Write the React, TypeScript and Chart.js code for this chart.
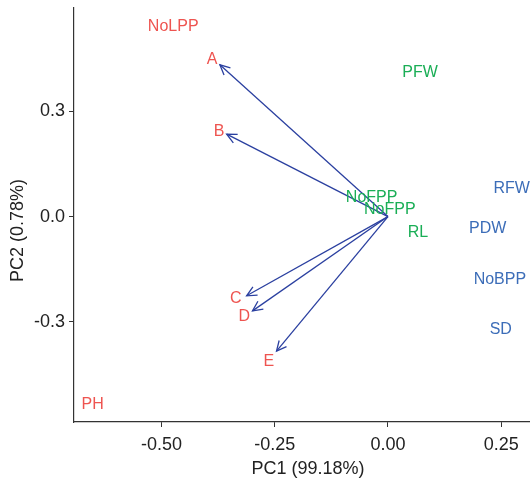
import React, { useEffect, useRef } from "react";
import { Chart, registerables } from "chart.js";

Chart.register(...registerables);

// Arrow (loading) tips, origin at (0,0)
const arrowNames = ["A", "B", "C", "D", "E"];
const arrowX = [-0.371, -0.356, -0.312, -0.299, -0.246];
const arrowY = [0.433, 0.235, -0.226, -0.269, -0.384];

// Text labels
const redNames = ["NoLPP", "A", "B", "C", "D", "E", "PH"];
const redX = [-0.474, -0.388, -0.373, -0.336, -0.317, -0.263, -0.652];
const redY = [0.543, 0.448, 0.243, -0.233, -0.286, -0.414, -0.536];

const greenNames = ["PFW", "NoFPP", "NoFPP", "RL"];
const greenX = [0.071, -0.036, 0.004, 0.066];
const greenY = [0.41, 0.054, 0.021, -0.045];

const blueNames = ["RFW", "PDW", "NoBPP", "SD"];
const blueX = [0.273, 0.22, 0.247, 0.249];
const blueY = [0.081, -0.033, -0.179, -0.322];

const xTicks = [-0.5, -0.25, 0, 0.25];
const yTicks = [-0.3, 0, 0.3];
const xTitle = "PC1 (99.18%)";
const yTitle = "PC2 (0.78%)";

const RED = "#EE5450";
const GREEN = "#1AAE56";
const BLUE = "#3C6DB8";
const ARROW = "#2B40A0";
const FONT_FAMILY = "'Liberation Sans', Arial, sans-serif";

const labelPlugin = {
  id: "textLabels",
  afterDatasetsDraw(chart: any) {
    const { ctx, scales } = chart;
    ctx.save();
    chart.data.datasets.forEach((ds: any) => {
      if (!ds.textLabels) return;
      ctx.font = "16px " + FONT_FAMILY;
      ctx.fillStyle = ds.textColor;
      ctx.textAlign = "center";
      ctx.textBaseline = "middle";
      ds.data.forEach((p: any, i: number) => {
        const px = scales.x.getPixelForValue(p.x);
        const py = scales.y.getPixelForValue(p.y);
        ctx.fillText(ds.textLabels[i], px, py);
      });
    });
    ctx.restore();
  },
};

const yTitlePlugin = {
  id: "yTitle",
  afterDraw(chart: any) {
    const { ctx } = chart;
    ctx.save();
    ctx.translate(18, 230.5);
    ctx.rotate(-Math.PI / 2);
    ctx.font = "18px " + FONT_FAMILY;
    ctx.fillStyle = "#222";
    ctx.textAlign = "center";
    ctx.textBaseline = "middle";
    ctx.fillText(yTitle, 0, 0);
    ctx.restore();
  },
};

const arrowHeadPlugin = {
  id: "arrowHeads",
  afterDatasetsDraw(chart: any) {
    const { ctx, scales } = chart;
    ctx.save();
    ctx.strokeStyle = ARROW;
    ctx.lineWidth = 1.3;
    chart.data.datasets.forEach((ds: any) => {
      if (!ds.isArrow) return;
      const [a, b] = ds.data;
      const x0 = scales.x.getPixelForValue(a.x);
      const y0 = scales.y.getPixelForValue(a.y);
      const x1 = scales.x.getPixelForValue(b.x);
      const y1 = scales.y.getPixelForValue(b.y);
      const ang = Math.atan2(y1 - y0, x1 - x0);
      const len = 11;
      const spread = Math.PI / 7;
      ctx.beginPath();
      ctx.moveTo(x1 - len * Math.cos(ang - spread), y1 - len * Math.sin(ang - spread));
      ctx.lineTo(x1, y1);
      ctx.lineTo(x1 - len * Math.cos(ang + spread), y1 - len * Math.sin(ang + spread));
      ctx.stroke();
    });
    ctx.restore();
  },
};

export default function App() {
  const ref = useRef<HTMLCanvasElement>(null);
  useEffect(() => {
    if (!ref.current) return;
    const arrowSets = arrowNames.map((n, i) => ({
      label: n,
      isArrow: true,
      data: [
        { x: 0, y: 0 },
        { x: arrowX[i], y: arrowY[i] },
      ],
      showLine: true,
      borderColor: ARROW,
      borderWidth: 1.3,
      pointRadius: 0,
      fill: false,
    }));
    const mk = (names: string[], xs: number[], ys: number[], color: string) => ({
      label: "t",
      textLabels: names,
      textColor: color,
      data: xs.map((x, i) => ({ x, y: ys[i] })),
      pointRadius: 0,
      showLine: false,
    });
    const font = { family: FONT_FAMILY, size: 18 };
    const chart = new Chart(ref.current, {
      type: "scatter",
      data: {
        datasets: [
          ...arrowSets,
          mk(redNames, redX, redY, RED),
          mk(greenNames, greenX, greenY, GREEN),
          mk(blueNames, blueX, blueY, BLUE),
        ] as any,
      },
      options: {
        animation: false,
        responsive: false,
        layout: { padding: { top: 8, right: 0, left: 0, bottom: 0 } },
        plugins: { legend: { display: false }, tooltip: { enabled: false } },
        scales: {
          x: {
            type: "linear",
            min: -0.693,
            max: 0.34,
            grid: {
              display: true,
              drawOnChartArea: false,
              drawTicks: true,
              tickLength: 5,
              color: "#333",
            },
            border: { display: true, color: "#333", width: 1.2 },
            afterBuildTicks: (s: any) => {
              s.ticks = xTicks.map((v) => ({ value: v }));
            },
            ticks: {
              color: "#222",
              font,
              padding: 7,
              maxRotation: 0,
              callback: (v: any) => Number(v).toFixed(2),
            },
            title: { display: true, text: xTitle, color: "#222", font, padding: { top: 2, bottom: 0 } },
            afterFit: (s: any) => {
              s.height = 58;
              s.paddingLeft = 0;
              s.paddingRight = 0;
            },
          },
          y: {
            type: "linear",
            min: -0.586,
            max: 0.595,
            grid: {
              display: true,
              drawOnChartArea: false,
              drawTicks: true,
              tickLength: 5,
              color: "#333",
            },
            border: { display: true, color: "#333", width: 1.2 },
            afterBuildTicks: (s: any) => {
              s.ticks = yTicks.map((v) => ({ value: v }));
            },
            ticks: {
              color: "#222",
              font,
              padding: 4,
              callback: (v: any) => Number(v).toFixed(1),
            },
            title: { display: false },
            afterFit: (s: any) => {
              s.width = 74;
              s.paddingTop = 0;
              s.paddingBottom = 0;
            },
          },
        },
      } as any,
      plugins: [arrowHeadPlugin, labelPlugin, yTitlePlugin],
    });
    return () => chart.destroy();
  }, []);
  return (
    <div
      style={{
        position: "fixed",
        left: 0,
        top: 0,
        width: 530,
        height: 480,
        overflow: "hidden",
        background: "#fff",
      }}
    >
      <canvas ref={ref} width={542} height={480} style={{ display: "block" }} />
    </div>
  );
}
